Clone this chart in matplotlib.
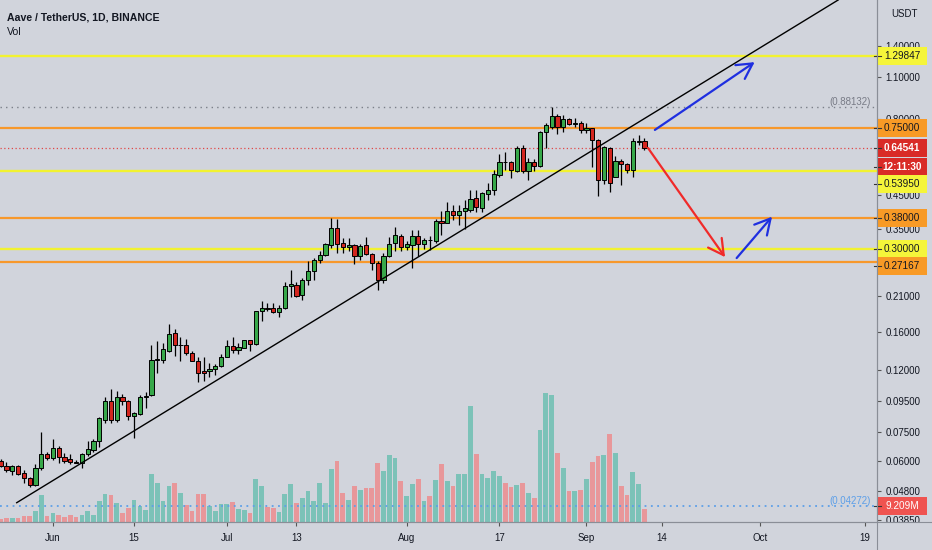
import numpy as np
import pandas as pd
import matplotlib
matplotlib.use("Agg")
import matplotlib.pyplot as plt
from matplotlib.patches import Rectangle
from matplotlib.lines import Line2D
from matplotlib.ticker import FixedLocator, FuncFormatter, NullLocator

plt.rcParams["font.family"] = ["Liberation Sans", "DejaVu Sans"]

# ---- data (AAVE/USDT daily) ----
start = "2020-05-23"

opens = [0.0600, 0.0578, 0.0560, 0.0581, 0.0551, 0.0528, 0.0502, 0.0569, 0.0635, 0.0615,
         0.0663, 0.0619, 0.0611, 0.0598, 0.0593, 0.0635, 0.0654, 0.0700, 0.0824, 0.0951,
         0.0824, 0.0975, 0.0945, 0.0847, 0.0860, 0.0978, 0.0990, 0.1290, 0.1293, 0.1390,
         0.1590, 0.1445, 0.1450, 0.1368, 0.1285, 0.1190, 0.1190, 0.1205, 0.1233, 0.1327,
         0.1435, 0.1400, 0.1420, 0.1500, 0.1460, 0.1870, 0.1920, 0.1915, 0.1860, 0.1915,
         0.2260, 0.2290, 0.2120, 0.2365, 0.2530, 0.2760, 0.2870, 0.3090, 0.3505, 0.3150,
         0.3040, 0.3080, 0.2850, 0.3080, 0.2890, 0.2705, 0.2370, 0.2850, 0.3145, 0.3315,
         0.3040, 0.3090, 0.3315, 0.3115, 0.3210, 0.3185, 0.3705, 0.3650, 0.4000, 0.3890,
         0.3990, 0.4015, 0.4410, 0.4095, 0.4555, 0.4690, 0.5250, 0.5810, 0.5780, 0.5410,
         0.6440, 0.5395, 0.5780, 0.5630, 0.7250, 0.7570, 0.8200, 0.7570, 0.8030, 0.7720,
         0.7780, 0.7390, 0.7490, 0.6850, 0.5060, 0.6440, 0.5190, 0.5850, 0.5710, 0.5440,
         0.6760, 0.6800]
highs = [0.0610, 0.0597, 0.0584, 0.0584, 0.0562, 0.0535, 0.0587, 0.0752, 0.0646, 0.0710,
         0.0676, 0.0638, 0.0635, 0.0607, 0.0641, 0.0700, 0.0710, 0.0842, 0.0980, 0.1037,
         0.1024, 0.0998, 0.0956, 0.0870, 0.0993, 0.1018, 0.1450, 0.1490, 0.1475, 0.1700,
         0.1640, 0.1540, 0.1520, 0.1390, 0.1327, 0.1327, 0.1260, 0.1252, 0.1353, 0.1510,
         0.1545, 0.1467, 0.1510, 0.1510, 0.1880, 0.2020, 0.1985, 0.1995, 0.1960, 0.2340,
         0.2560, 0.2340, 0.2400, 0.2745, 0.2800, 0.2945, 0.3150, 0.3790, 0.3760, 0.3255,
         0.3270, 0.3125, 0.3125, 0.3280, 0.2920, 0.2745, 0.2910, 0.3280, 0.3530, 0.3360,
         0.3175, 0.3460, 0.3460, 0.3255, 0.3300, 0.3765, 0.3985, 0.4290, 0.4190, 0.4190,
         0.4350, 0.4690, 0.4690, 0.4630, 0.4930, 0.5460, 0.6180, 0.6250, 0.5850, 0.6530,
         0.6590, 0.5960, 0.5930, 0.7350, 0.7810, 0.8813, 0.8330, 0.8280, 0.8080, 0.8080,
         0.7880, 0.7810, 0.7520, 0.6920, 0.6530, 0.6500, 0.6080, 0.5930, 0.5760, 0.6970,
         0.7110, 0.6960]
lows = [0.0575, 0.0554, 0.0542, 0.0542, 0.0510, 0.0493, 0.0498, 0.0564, 0.0607, 0.0607,
        0.0595, 0.0595, 0.0589, 0.0593, 0.0569, 0.0623, 0.0646, 0.0671, 0.0801, 0.0801,
        0.0812, 0.0921, 0.0824, 0.0716, 0.0853, 0.0900, 0.0988, 0.1170, 0.1265, 0.1375,
        0.1333, 0.1280, 0.1343, 0.1280, 0.1098, 0.1105, 0.1140, 0.1155, 0.1228, 0.1322,
        0.1360, 0.1353, 0.1412, 0.1380, 0.1450, 0.1740, 0.1870, 0.1850, 0.1790, 0.1905,
        0.2090, 0.2090, 0.2040, 0.2280, 0.2370, 0.2705, 0.2840, 0.3020, 0.2910, 0.2910,
        0.2955, 0.2680, 0.2760, 0.2870, 0.2560, 0.2200, 0.2310, 0.2830, 0.2955, 0.2955,
        0.2980, 0.2590, 0.2840, 0.3000, 0.2980, 0.3150, 0.3340, 0.3640, 0.3740, 0.3600,
        0.3480, 0.3980, 0.3980, 0.3980, 0.4350, 0.4520, 0.5190, 0.5460, 0.5150, 0.5370,
        0.5350, 0.5050, 0.5395, 0.5590, 0.6440, 0.7420, 0.7170, 0.7290, 0.7670, 0.7570,
        0.7230, 0.7220, 0.5590, 0.4470, 0.4920, 0.4610, 0.5170, 0.4870, 0.5350, 0.5190,
        0.6590, 0.6350]
closes = [0.0580, 0.0563, 0.0578, 0.0546, 0.0528, 0.0502, 0.0571, 0.0635, 0.0615, 0.0663,
          0.0619, 0.0602, 0.0597, 0.0595, 0.0635, 0.0658, 0.0702, 0.0831, 0.0951, 0.0824,
          0.0975, 0.0951, 0.0847, 0.0866, 0.0978, 0.0988, 0.1293, 0.1300, 0.1405, 0.1580,
          0.1445, 0.1450, 0.1360, 0.1287, 0.1175, 0.1170, 0.1207, 0.1236, 0.1328, 0.1435,
          0.1400, 0.1428, 0.1500, 0.1458, 0.1870, 0.1925, 0.1905, 0.1862, 0.1925, 0.2265,
          0.2295, 0.2100, 0.2370, 0.2540, 0.2760, 0.2870, 0.3110, 0.3505, 0.3115, 0.3040,
          0.3080, 0.2850, 0.3060, 0.2890, 0.2700, 0.2370, 0.2850, 0.3125, 0.3330, 0.3040,
          0.3110, 0.3300, 0.3115, 0.3210, 0.3205, 0.3705, 0.3640, 0.4000, 0.3880, 0.4000,
          0.4080, 0.4375, 0.4110, 0.4570, 0.4690, 0.5300, 0.5810, 0.5790, 0.5440, 0.6440,
          0.5410, 0.5780, 0.5640, 0.7300, 0.7670, 0.8200, 0.7570, 0.8030, 0.7720, 0.7780,
          0.7390, 0.7490, 0.6850, 0.5060, 0.6470, 0.4930, 0.5850, 0.5710, 0.5440, 0.6770,
          0.6800, 0.6454]
# volume in millions
volumes = [2.4, 2.8, 2.8, 2.8, 4.2, 4.0, 7.6, 19.4, 4.0, 6.6,
           5.2, 3.5, 5.2, 3.5, 5.2, 7.8, 4.7, 14.6, 19.6, 18.9,
           13.5, 6.6, 9.9, 15.3, 11.3, 8.7, 33.7, 27.6, 14.6, 25.5,
           27.6, 20.8, 12.3, 7.6, 20.1, 19.6, 11.3, 7.8, 12.5, 13.0,
           13.9, 9.0, 8.3, 6.6, 30.2, 25.3, 10.6, 9.9, 7.1, 20.1,
           26.7, 13.5, 17.2, 21.9, 14.6, 27.6, 13.5, 37.3, 43.2, 20.8,
           15.3, 25.5, 22.7, 23.8, 23.8, 41.8, 36.3, 47.2, 45.3, 28.8,
           18.4, 26.7, 30.2, 14.6, 18.2, 29.5, 40.8, 29.0, 25.5, 34.2,
           33.7, 81.9, 47.9, 34.2, 31.4, 36.3, 32.8, 27.6, 25.0, 26.2,
           27.4, 20.8, 16.8, 64.9, 91.1, 89.7, 48.6, 38.5, 21.9, 21.9,
           22.7, 30.2, 42.5, 46.5, 47.2, 62.1, 48.6, 25.5, 18.9, 35.6,
           26.7, 9.2]

support_yellow = [1.29847, 0.53950, 0.30000]
support_orange = [0.75000, 0.38000, 0.27167]
high_mark = 0.88132
low_mark = 0.04272
last_price = 0.64541
last_volume = 9.209

tick_dates = ["2020-06-01", "2020-06-15", "2020-07-01", "2020-07-13", "2020-08-01",
              "2020-08-17", "2020-09-01", "2020-09-14", "2020-10-01", "2020-10-19"]
tick_names = ["Jun", "15", "Jul", "13", "Aug", "17", "Sep", "14", "Oct", "19"]
price_ticks = [1.4, 1.1, 0.8, 0.45, 0.35, 0.21, 0.16, 0.12, 0.095, 0.075, 0.06, 0.048, 0.0385]

# trend line and arrows (day index, price)
trend_x = [2.76, 144.4]
trend_y = [0.0439, 1.977]
arrows = [((112.8, 0.739), (130.0, 1.235), "#1f2fe0"),
          ((111.6, 0.645), (124.9, 0.282), "#f02a2a"),
          ((126.9, 0.280), (133.0, 0.383), "#1f2fe0")]

# ---- figure ----
W, H = 932, 550
BG = "#d1d4dc"
TXT = "#131722"
GREEN = "#37a84a"
RED = "#d3261f"

x = np.arange(len(opens))
o = np.array(opens)
c = np.array(closes)
up = c >= o

fig = plt.figure(figsize=(W / 100, H / 100), dpi=100, facecolor=BG)
pos = [0, 28 / H, 877 / W, 522 / H]
xlim = (-0.12, 151.1)

# volume pane (behind)
axv = fig.add_axes(pos, facecolor=BG)
vcol = np.where(up, "#7cc2b8", "#e8979a")
axv.bar(x, volumes, width=0.82, color=vcol, linewidth=0)
axv.set_xlim(xlim)
axv.set_ylim(0, 369.7)
axv.axis("off")

# price pane
ax = fig.add_axes(pos)
ax.patch.set_visible(False)
ax.set_yscale("log")
ax.set_xlim(xlim)
ax.set_ylim(0.03793, 1.977)

for lvl in support_yellow:
    ax.axhline(lvl, color="#f2f230", lw=1.7, zorder=1)
for lvl in support_orange:
    ax.axhline(lvl, color="#f7982b", lw=1.6, zorder=1)
ax.axhline(high_mark, color="#7b7f89", lw=1.0, ls=(0, (1, 3)), zorder=1)
ax.axhline(last_price, color="#e04848", lw=0.9, ls=(0, (1, 2)), zorder=1)
ax.axhline(low_mark, color="#5d9fe8", lw=1.3, ls=(0, (1, 2.5)), zorder=1)

ax.vlines(x, lows, highs, color="black", lw=0.9, zorder=3)
body_lo = np.minimum(o, c)
body_h = np.maximum(np.abs(c - o), 1e-5)
ax.bar(x, body_h, bottom=body_lo, width=0.72, color=np.where(up, GREEN, RED),
       edgecolor="black", linewidth=0.7, zorder=4)

ax.plot(trend_x, trend_y, color="black", lw=1.0, zorder=5)
for (x0, y0), (x1, y1), col in arrows:
    ax.annotate("", xy=(x1, y1), xytext=(x0, y0), zorder=6,
                arrowprops=dict(arrowstyle="->,head_length=0.55,head_width=0.3",
                                mutation_scale=20, color=col, lw=1.6,
                                shrinkA=0, shrinkB=0))

ax.text(0.993, high_mark, "(0.88132)", transform=ax.get_yaxis_transform(),
        ha="right", va="bottom", fontsize=7, color="#787b86")
ax.text(0.993, low_mark, "(0.04272)", transform=ax.get_yaxis_transform(),
        ha="right", va="bottom", fontsize=7, color="#5d9fe8")

# axes styling
for s in ["top", "left"]:
    ax.spines[s].set_visible(False)
ax.spines["right"].set_color("#8a8e97")
ax.spines["bottom"].set_color("#8a8e97")
ax.yaxis.tick_right()
ax.yaxis.set_major_locator(FixedLocator(price_ticks))
ax.yaxis.set_minor_locator(NullLocator())
ax.yaxis.set_major_formatter(FuncFormatter(lambda v, _: f"{v:.5f}"))
ax.tick_params(axis="y", direction="out", length=3, width=0.8, color="#555",
               labelsize=7, labelcolor=TXT, pad=3)
t0 = pd.Timestamp(start)
tick_pos = [(pd.Timestamp(d) - t0).days for d in tick_dates]
ax.set_xticks(tick_pos)
ax.set_xticklabels(tick_names)
ax.tick_params(axis="x", direction="out", length=3, width=0.8, color="#555",
               labelsize=7, labelcolor=TXT, pad=5)

fig.text(7 / W, 1 - 18 / H, "Aave / TetherUS, 1D, BINANCE", fontsize=7.6,
         fontweight="bold", color=TXT, va="center")
fig.text(7 / W, 1 - 32 / H, "Vol", fontsize=7.6, color=TXT, va="center")
fig.text(904 / W, 1 - 14 / H, "USDT", fontsize=7, color=TXT, ha="center", va="center")

# right-hand price labels
fig.canvas.draw()


def axis_label(ypix, text, fc, tc, bold=False):
    fig.patches.append(Rectangle((877 / W, (ypix - 9) / H), 50 / W, 18 / H,
                                 transform=fig.transFigure, facecolor=fc,
                                 edgecolor="none", zorder=10))
    fig.lines.append(Line2D([874 / W, 881 / W], [ypix / H, ypix / H],
                            transform=fig.transFigure, color="#333", lw=0.8, zorder=11))
    fig.text(902 / W, ypix / H, text, ha="center", va="center", fontsize=7.2,
             color=tc, fontweight="bold" if bold else "normal", zorder=12)


def ypix_of(price, dy=0):
    return ax.transData.transform((0, price))[1] + dy


axis_label(ypix_of(1.29847), "1.29847", "#f5f53a", TXT)
axis_label(ypix_of(0.75), "0.75000", "#f89a26", TXT)
axis_label(ypix_of(last_price), "0.64541", "#d92b27", "white", bold=True)
axis_label(ypix_of(last_price, -19), "12:11:30", "#d92b27", "white", bold=True)
axis_label(ypix_of(0.5395, -13), "0.53950", "#f5f53a", TXT)
axis_label(ypix_of(0.38), "0.38000", "#f89a26", TXT)
axis_label(ypix_of(0.30), "0.30000", "#f5f53a", TXT)
axis_label(ypix_of(0.27167, -4), "0.27167", "#f89a26", TXT)
axis_label(axv.transData.transform((0, last_volume))[1] + 3, "9.209M", "#ef5350", "white")

# time-axis strip under the price scale hides the lowest tick label's lower half
fig.patches.append(Rectangle((877.5 / W, 0), (W - 877.5) / W, 28 / H,
                             transform=fig.transFigure, facecolor=BG,
                             edgecolor="none", zorder=9))
fig.lines.append(Line2D([877 / W, 877 / W], [0, 1], transform=fig.transFigure,
                        color="#8a8e97", lw=0.8, zorder=13))
fig.lines.append(Line2D([0, 1], [28 / H, 28 / H], transform=fig.transFigure,
                        color="#8a8e97", lw=0.8, zorder=13))

fig.savefig("out.png", dpi=100, facecolor=BG)
